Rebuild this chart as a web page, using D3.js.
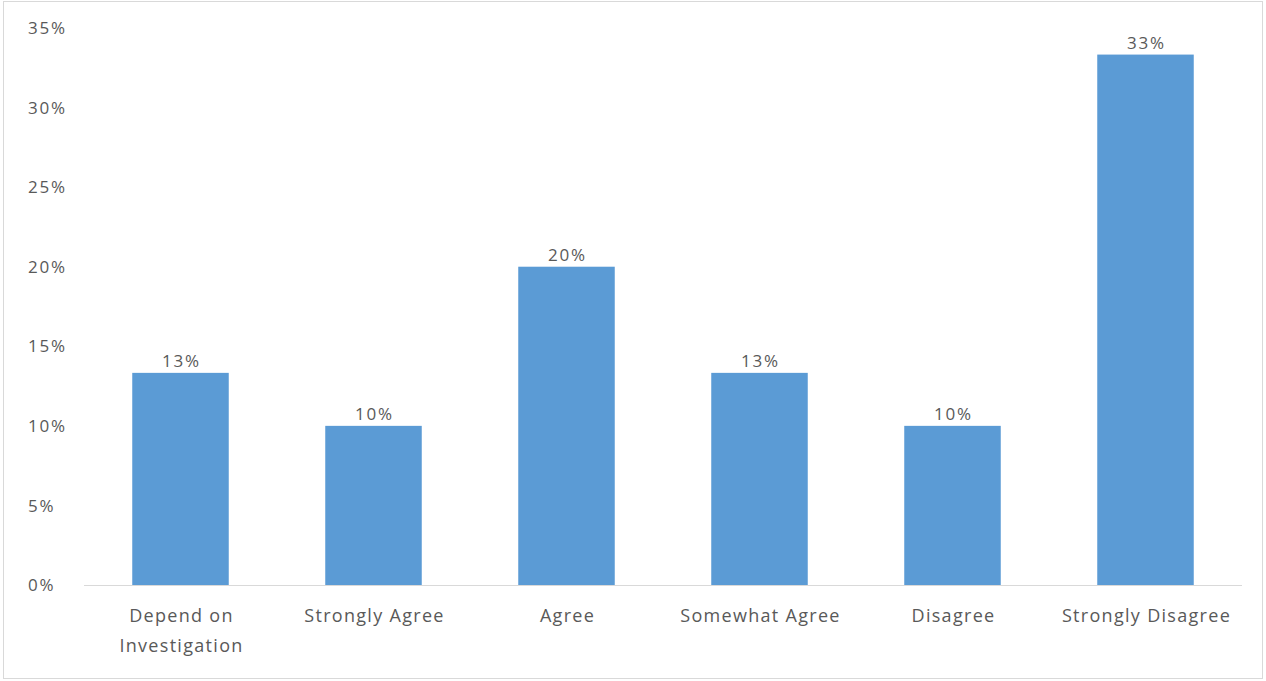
<!DOCTYPE html>
<html><head><meta charset="utf-8">
<script src="https://cdn.jsdelivr.net/npm/d3@7"></script>
<style>body{margin:0;background:#fff}svg{display:block}text{font-family:"Open Sans",sans-serif;fill:#595959}</style>
</head><body>
<svg id="c" width="1266" height="681"></svg>
<script>
const categories = ["Depend on|Investigation","Strongly Agree","Agree","Somewhat Agree","Disagree","Strongly Disagree"];
const values = [0.1333,0.10,0.20,0.1333,0.10,0.3333];
const yTicks = [0,0.05,0.10,0.15,0.20,0.25,0.30,0.35];

const svg = d3.select("#c");
svg.append("rect").attr("x",3.5).attr("y",1.5).attr("width",1259).attr("height",677)
  .attr("fill","#fff").attr("stroke","#d9d9d9");
const m = {l:84, r:1242, t:28, b:585};
const x = d3.scaleBand().domain(categories).range([m.l,m.r]).paddingInner(0.5).paddingOuter(0.25);
const y = d3.scaleLinear().domain([0,0.35]).range([m.b,m.t]);

svg.append("g").selectAll("text").data(yTicks).join("text")
  .attr("x",28).attr("y",d=>y(d)).attr("dy","0.36em")
  .style("font-size","17px").style("letter-spacing","1.8px").text(d=>d3.format(".0%")(d));

svg.append("g").selectAll("rect").data(values).join("rect")
  .attr("x",(d,i)=>x(categories[i])).attr("width",x.bandwidth())
  .attr("y",d=>y(d)).attr("height",d=>y(0)-y(d)).attr("fill","#5B9BD5");

svg.append("line").attr("x1",m.l).attr("x2",m.r).attr("y1",y(0)+0.5).attr("y2",y(0)+0.5)
  .attr("stroke","#d9d9d9");

svg.append("g").selectAll("text").data(values).join("text")
  .attr("x",(d,i)=>x(categories[i])+x.bandwidth()/2+1).attr("y",d=>y(d)-6)
  .attr("text-anchor","middle").style("font-size","17px").style("letter-spacing","1.8px").text(d=>d3.format(".0%")(d));

const xl = svg.append("g").selectAll("text").data(categories).join("text")
  .attr("x",d=>x(d)+x.bandwidth()/2).attr("y",622)
  .attr("text-anchor","middle").style("font-size","18px").style("letter-spacing","1.3px");
xl.each(function(d){
  const t=d3.select(this);
  d.split("|").forEach((s,i)=>t.append("tspan").attr("x",x(d)+x.bandwidth()/2+1).attr("dy",i?30:0).text(s));
});
</script>
</body></html>
